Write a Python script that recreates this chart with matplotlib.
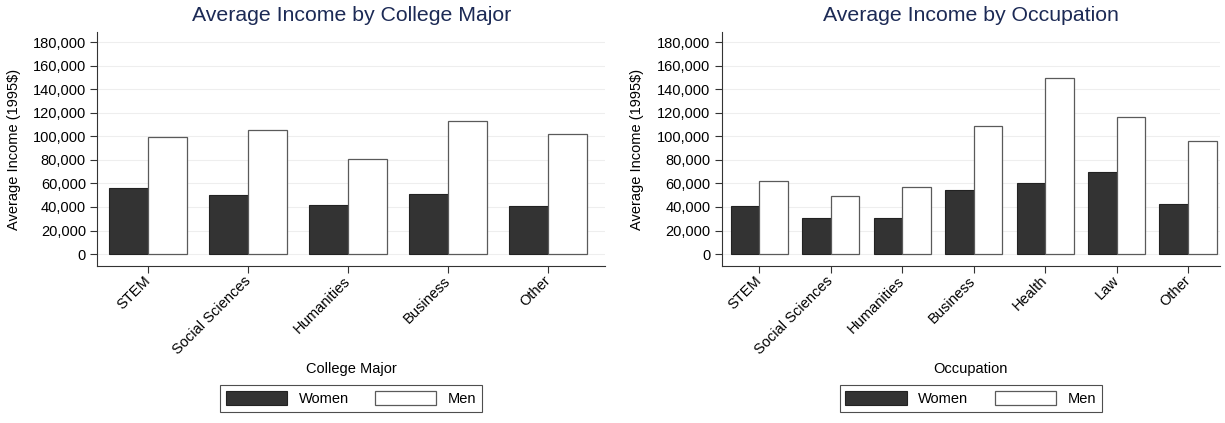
import numpy as np
import matplotlib.pyplot as plt

plt.rcParams['font.family'] = ['Liberation Sans', 'DejaVu Sans']

# ----- data
majors = ['STEM', 'Social Sciences', 'Humanities', 'Business', 'Other']
major_women = [55800, 50100, 41500, 51300, 41100]
major_men = [99200, 105600, 80800, 113200, 102300]

occupations = ['STEM', 'Social Sciences', 'Humanities', 'Business', 'Health', 'Law', 'Other']
occ_women = [41100, 30400, 30600, 54400, 60200, 69500, 42500]
occ_men = [62300, 49600, 56600, 108700, 149600, 116100, 96300]

yticks = np.arange(0, 180001, 20000)

title_color = '#1c2a55'
dark = '#333333'


def panel(ax, cats, women, men, width, xlim, title, xlabel):
    x = np.arange(len(cats))
    ax.bar(x - width / 2, women, width, color=dark, edgecolor='#222222',
           linewidth=0.8, label='Women', zorder=3)
    ax.bar(x + width / 2, men, width, color='white', edgecolor='#5a5a5a',
           linewidth=0.9, label='Men', zorder=3)
    ax.set_xlim(*xlim)
    ax.set_ylim(-10200, 188500)
    ax.set_yticks(yticks)
    ax.set_yticklabels([f'{v:,}' for v in yticks], fontsize=10.5)
    ax.set_xticks(x)
    ax.set_xticklabels(cats, rotation=45, ha='right', va='center',
                       rotation_mode='anchor', fontsize=10.5)
    ax.tick_params(axis='both', direction='out', length=5, width=0.8,
                   color='#333333', pad=3)
    ax.tick_params(axis='x', pad=4)
    ax.grid(axis='y', color='#eeeeee', linewidth=0.8, zorder=0)
    for s in ['top', 'right']:
        ax.spines[s].set_visible(False)
    for s in ['left', 'bottom']:
        ax.spines[s].set_color('#333333')
        ax.spines[s].set_linewidth(0.8)
    ax.set_title(title, color=title_color, fontsize=15.3, pad=8)
    ax.set_ylabel('Average Income (1995$)', fontsize=10.5)
    ax.set_xlabel(xlabel, fontsize=10.5)
    ax.xaxis.set_label_coords(0.5, -0.41)
    leg = ax.legend(loc='center', bbox_to_anchor=(0.5, -0.565), ncol=2,
                    fontsize=10.5, frameon=True, fancybox=False,
                    edgecolor='#222222', handlelength=4.2, handleheight=1.1,
                    columnspacing=1.8, borderpad=0.4)
    leg.get_frame().set_linewidth(0.8)


fig = plt.figure(figsize=(12.25, 4.23), dpi=100)
ax1 = fig.add_axes([0.0792, 0.371, 0.415, 0.553])
ax2 = fig.add_axes([0.589, 0.371, 0.407, 0.553])

panel(ax1, majors, major_women, major_men, 0.39, (-0.51, 4.57),
      'Average Income by College Major', 'College Major')
panel(ax2, occupations, occ_women, occ_men, 0.40, (-0.53, 6.45),
      'Average Income by Occupation', 'Occupation')

ax1.yaxis.set_label_coords(-0.15, 0.5)
ax2.yaxis.set_label_coords(-0.155, 0.5)

fig.savefig('out.png', dpi=100)
